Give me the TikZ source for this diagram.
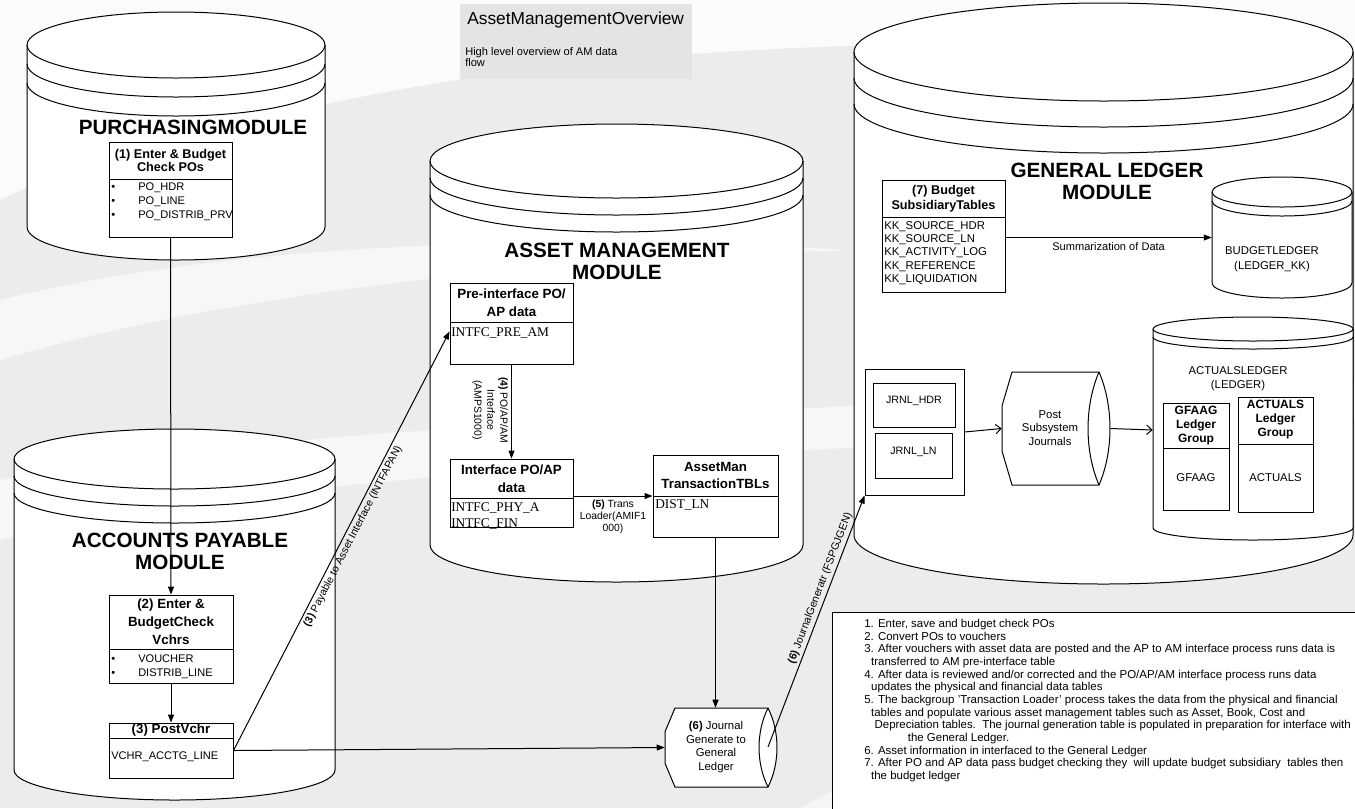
\documentclass[tikz,border=0pt]{standalone}
\usepackage{fontspec}
\setmainfont{Liberation Sans}
\newfontfamily\serifit{Liberation Serif}
\usetikzlibrary{arrows.meta,fit,calc}
\newcommand{\fs}[2]{\fontsize{#1}{#2}\selectfont}
\newcommand{\bul}{\makebox[20.25pt][l]{\textbullet}}
% cylinder: cx cy rx ry band ybottom nbands
\newcommand{\drawcyl}[7]{%
 \filldraw[ln, fill=white] ({#1-#3},{#2}) .. controls ({#1-#3},{#2-0.5523*#4}) and ({#1-0.5523*#3},{#2-#4}) .. ({#1},{#2-#4})
  .. controls ({#1+0.5523*#3},{#2-#4}) and ({#1+#3},{#2-0.5523*#4}) .. ({#1+#3},{#2})
  -- ({#1+#3},{#6}) .. controls ({#1+#3},{#6+0.5523*#4}) and ({#1+0.5523*#3},{#6+#4}) .. ({#1},{#6+#4})
  .. controls ({#1-0.5523*#3},{#6+#4}) and ({#1-#3},{#6+0.5523*#4}) .. ({#1-#3},{#6}) -- cycle;
 \foreach \k in {0,...,#7}{%
  \draw[ln] ({#1-#3},{#2+\k*#5}) .. controls ({#1-#3},{#2+\k*#5+0.5523*#4}) and ({#1-0.5523*#3},{#2+\k*#5+#4}) .. ({#1},{#2+\k*#5+#4})
   .. controls ({#1+0.5523*#3},{#2+\k*#5+#4}) and ({#1+#3},{#2+\k*#5+0.5523*#4}) .. ({#1+#3},{#2+\k*#5});
 }%
}
% drum: xmidleft xtopleft ytop ybottom xlens bulge
\newcommand{\drawdrum}[6]{%
 \filldraw[ln, fill=white] (#2,#3) -- (#5,#3) .. controls ({#5+#6*1.33},{#3+(#4-#3)*0.3}) and ({#5+#6*1.33},{#3+(#4-#3)*0.7}) .. (#5,#4)
  -- (#2,#4) -- (#1,{#4-(#4-#3)*0.3}) -- (#1,{#3+(#4-#3)*0.3}) -- cycle;
 \draw[ln] (#5,#3) .. controls ({#5-#6*1.33},{#3+(#4-#3)*0.3}) and ({#5-#6*1.33},{#3+(#4-#3)*0.7}) .. (#5,#4);
}
\definecolor{bgc}{RGB}{236,236,236}
\definecolor{ovc}{RGB}{228,228,228}
\begin{document}
\begin{tikzpicture}[x=0.75pt,y=-0.75pt,
 ln/.style={line width=0.75pt},
 tbox/.style={draw, line width=0.75pt, fill=white, inner sep=0pt},
 hdr/.style={font=\fs{10}{12.5}\bfseries, align=center, inner sep=0pt},
 itm/.style={font=\fs{8.3}{10.5}, align=left, inner sep=0pt},
 ser/.style={font=\fs{10}{10}\serifit, align=left, inner sep=0pt},
 ttl/.style={font=\fs{15.5}{17}\bfseries, align=center, inner sep=0pt},
 txt/.style={font=\fs{8.5}{10.5}, align=center, inner sep=0pt},
 lbl/.style={font=\fs{8}{9}, inner sep=2pt},
 arr/.style={ln, -{Triangle[length=6pt,width=4.5pt]}},
 oarr/.style={ln, -{Straight Barb[length=4pt,width=7pt]}},
 hit/.style={inner sep=0pt},
]
\useasboundingbox (0,0) rectangle (1355,808);
\clip (0,0) rectangle (1355,808);
% background
\fill[bgc] (0,0) rectangle (1355,808);
\fill[white,opacity=0.8] (0,0) -- (1355,0) -- (1355,60) .. controls (1000,30) and (600,40) .. (300,110) .. controls (180,140) and (80,160) .. (0,200) -- cycle;
\fill[white,opacity=0.6] (0,300) .. controls (200,250) and (500,230) .. (850,250) .. controls (500,260) and (200,300) .. (0,360) -- cycle;
\fill[white,opacity=0.6] (0,480) .. controls (250,430) and (600,420) .. (1355,380) -- (1355,420) .. controls (600,460) and (250,480) .. (0,540) -- cycle;
\fill[white,opacity=0.5] (800,808) .. controls (1000,700) and (1200,660) .. (1355,650) -- (1355,808) -- cycle;

% cylinders
\drawcyl{176}{45}{149}{33}{19}{227}{2}
\node[hit, fit={(27,12)(325,260)}] (purch) {};
\drawcyl{174.5}{459}{160.5}{30}{17}{770}{2}
\node[hit, fit={(14,429)(335,800)}] (ap) {};
\drawcyl{616.5}{161}{186.5}{37}{17}{545}{2}
\node[hit, fit={(430,124)(803,582)}] (amc) {};
\drawcyl{1103.5}{52}{249.5}{49}{26}{535}{2}
\node[hit, fit={(854,3)(1353,584)}] (glc) {};
\drawcyl{1282}{192}{70}{15}{9}{283}{1}
\node[hit, fit={(1212,177)(1352,298)}] (bl) {};
\drawcyl{1253}{329}{100}{12}{8}{528}{1}
\node[hit, fit={(1153,317)(1353,543)}] (actl) {};

% overview box
\fill[ovc] (460,4) rectangle (692,79);
\node[anchor=west, inner sep=0pt, font=\fs{13}{14}] (ovt) at (467,20) {AssetManagementOverview};
\node[anchor=north west, inner sep=0pt, align=left, font=\fs{8.3}{8.6}] (ovd) at (465,47) {High level overview of AM data\\flow};

% purchasing
\node[ttl] (ptitle) at (193,127) {PURCHASINGMODULE};
\node[tbox, fit={(109,142)(232,237)}] (b1) {};
\draw[ln] (109,179) -- (232,179);
\node[hdr, font=\fs{9.5}{10}\bfseries] (b1h) at (170.5,160.5) {(1) Enter \& Budget\\Check POs};
\node[itm, anchor=north west] (b1i) at (111,182) {\bul PO\_HDR\\\bul PO\_LINE\\\bul PO\_DISTRIB\_PRV};

% accounts payable
\node[ttl] (aptitle) at (180,551.5) {ACCOUNTS PAYABLE\\MODULE};
\node[tbox, fit={(109,595)(233,683)}] (b2) {};
\draw[ln] (109,649) -- (233,649);
\node[hdr, font=\fs{10}{13.5}\bfseries] (b2h) at (171,622) {(2) Enter \&\\BudgetCheck\\Vchrs};
\node[itm, anchor=north west] (b2i) at (111,654) {\bul VOUCHER\\\bul DISTRIB\_LINE};
\node[tbox, fit={(109,723)(233,778)}] (b3) {};
\draw[ln] (109,738) -- (233,738);
\node[hdr] (b3h) at (171,730.5) {(3) PostVchr};
\node[itm, anchor=west] (b3i) at (111,757) {VCHR\_ACCTG\_LINE};

% asset management
\node[ttl] (amtitle) at (617,261.5) {ASSET MANAGEMENT\\MODULE};
\node[tbox, fit={(450,283)(573,364)}] (pre) {};
\draw[ln] (450,322) -- (573,322);
\node[hdr, font=\fs{10}{13.5}\bfseries] (preh) at (511.5,302.5) {Pre-interface PO/\\AP data};
\node[ser, anchor=west] (prei) at (451,333) {INTFC\_PRE\_AM};
\node[tbox, fit={(450,459)(573,527)}] (intf) {};
\draw[ln] (450,498) -- (573,498);
\node[hdr, font=\fs{10}{13.5}\bfseries] (intfh) at (511.5,478.5) {Interface PO/AP\\data};
\node[ser, anchor=north west, font=\fs{10}{12.5}\serifit] (intfi) at (451,502) {INTFC\_PHY\_A\\INTFC\_FIN};
\node[tbox, fit={(653,455)(778,537)}] (am) {};
\draw[ln] (653,496) -- (778,496);
\node[hdr, font=\fs{10}{12.5}\bfseries] (amh) at (715.5,475.5) {AssetMan\\TransactionTBLs};
\node[ser, anchor=west] (ami) at (655,505) {DIST\_LN};

% journal generate
\drawdrum{665}{675}{708}{787}{768}{9}
\node[hit, fit={(665,708)(777,787)}] (jg) {};
\node[txt, font=\fs{8.5}{10.2}] (jgt) at (716,747) {\textbf{(6)} Journal\\Generate to\\General\\Ledger};
\coordinate (jgout) at (768,747);

% general ledger
\node[ttl] (gltitle) at (1107,181.5) {GENERAL LEDGER\\MODULE};
\node[tbox, fit={(882,180)(1005,292)}] (bud) {};
\draw[ln] (882,217) -- (1005,217);
\node[hdr, font=\fs{9.5}{11.25}\bfseries] (budh) at (943.5,198.5) {(7) Budget\\SubsidiaryTables};
\node[itm, anchor=north west, font=\fs{8.5}{10}] (budi) at (884,221) {KK\_SOURCE\_HDR\\KK\_SOURCE\_LN\\KK\_ACTIVITY\_LOG\\KK\_REFERENCE\\KK\_LIQUIDATION};
\node[txt, font=\fs{8.5}{11}] (blt) at (1272,259.5) {BUDGETLEDGER\\(LEDGER\_KK)};

\node[tbox, fit={(865,369)(964,495)}] (jrnl) {};
\node[tbox, fit={(873,383)(955,427)}, font=\fs{8}{10}] (jhdr) {JRNL\_HDR};
\node[tbox, fit={(875,433)(952,478)}, font=\fs{8}{10}] (jln) {JRNL\_LN};

\drawdrum{1002}{1012}{372}{485}{1099}{11}
\node[hit, fit={(1002,372)(1110,485)}] (post) {};
\node[txt, font=\fs{8.5}{10}] (postt) at (1050,428) {Post\\Subsystem\\Journals};

\node[txt, font=\fs{8.5}{10.5}] (actt) at (1238,379) {ACTUALSLEDGER\\(LEDGER)};
\node[tbox, fit={(1163,403)(1229,510)}] (gf) {};
\draw[ln] (1163,448) -- (1229,448);
\node[hdr, font=\fs{9}{10.5}\bfseries] (gfh) at (1196,425.5) {GFAAG\\Ledger\\Group};
\node[txt] (gfi) at (1196,478) {GFAAG};
\node[tbox, fit={(1238,397)(1313,512)}] (ac) {};
\draw[ln] (1238,444) -- (1313,444);
\node[hdr, font=\fs{9}{10.5}\bfseries] (ach) at (1275.5,420) {ACTUALS\\Ledger\\Group};
\node[txt] (aci) at (1275.5,478) {ACTUALS};

% notes
\node[tbox, fit={(832,612)(1370,820)}] (notesbox) {};
\node[anchor=north west, inner sep=0pt, align=left, font=\fs{8.6}{9.5}] (notes) at (864,619) {1. Enter, save and budget check POs\\
2. Convert POs to vouchers\\
3. After vouchers with asset data are posted and the AP to AM interface process runs data is\\
\hspace*{0.6em}transferred to AM pre-interface table\\
4. After data is reviewed and/or corrected and the PO/AP/AM interface process runs data\\
\hspace*{0.6em}updates the physical and financial data tables\\
5. The backgroup 'Transaction Loader' process takes the data from the physical and financial\\
\hspace*{0.6em}tables and populate various asset management tables such as Asset, Book, Cost and\\
\hspace*{0.9em}Depreciation tables.\ \ The journal generation table is populated in preparation for interface with\\
\hspace*{3.8em}the General Ledger.\\
6. Asset information in interfaced to the General Ledger\\
7. After PO and AP data pass budget checking they\ \ will update budget subsidiary\ \ tables then\\
\hspace*{0.6em}the budget ledger};

% connectors
\draw[arr] (b1.south) -- (b2.north);
\draw[arr] (b2.south) -- (b3.north);
\draw[arr] (b3.east) -- (jg.west);
\draw[arr] (b3.east) -- node[lbl, sloped, below, pos=0.52] (l3) {\textbf{(3)} Payable to Asset Interface (INTFAPAN)} ([yshift=-6pt]pre.west);
\draw[arr] (pre.south) -- (intf.north);
\node[lbl, rotate=-90, align=center, font=\fs{7.8}{9.75}] (l4) at (490,410) {\textbf{(4)} PO/AP/AM\\Interface\\(AMPS1000)};
\draw[arr] (intf.east |- am.west) -- (am.west);
\node[lbl, align=center, font=\fs{7.8}{9}] (l5) at (613,517) {\textbf{(5)} Trans\\Loader(AMIF1\\000)};
\draw[arr] (am.south) -- (am.south |- jg.north);
\draw[arr] (jgout) -- node[lbl, sloped, above, pos=0.62] (l6) {\textbf{(6)} JournalGeneratr (FSPGJGEN)} (jrnl.south west);
\draw[oarr] (jrnl.east) -- (post.west);
\draw[oarr] (post.east) -- (actl.west);
\draw[arr] (bud.east |- bl.west) -- node[lbl, below, font=\fs{8.3}{10}, inner sep=3pt] (l7) {Summarization of Data} (bl.west);
\end{tikzpicture}
\end{document}
